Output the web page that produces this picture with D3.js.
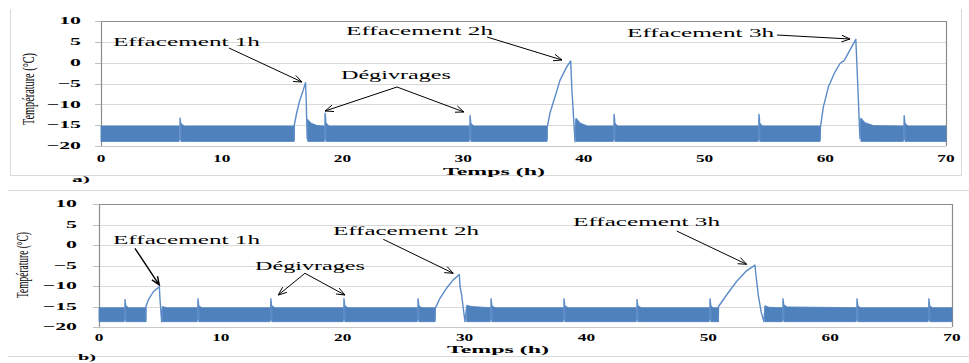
<!DOCTYPE html>
<html><head><meta charset="utf-8">
<script src="https://cdn.jsdelivr.net/npm/d3@7"></script>
<style>body{margin:0;background:#fff}svg{display:block}</style>
</head><body>
<svg id="c" width="969" height="363"></svg>
<script>
// ---------- DATA ----------
const yTicks = [10, 5, 0, -5, -10, -15, -20];
const xTicks = [0, 10, 20, 30, 40, 50, 60, 70];
const xTitle = "Temps (h)";
const yTitle = "Température (°C)";
const panelLabels = ["a)", "b)"];

// Chart a : noise band segments [time h, low °C, high °C]
const bandA = [
  [[0, -18.9, -15.2], [6.47, -18.9, -15.2]],
  [[6.62, -18.9, -14.6], [6.9, -18.9, -15.2], [16.0, -18.9, -15.2]],
  [[17.12, -18.9, -13.6], [17.4, -18.9, -14.5], [17.9, -18.9, -15.1], [18.5, -18.9, -15.2]],
  [[18.63, -18.9, -14.4], [18.9, -18.9, -15.2], [30.5, -18.9, -15.2]],
  [[30.64, -18.9, -14.6], [30.9, -18.9, -15.2], [36.95, -18.9, -15.2]],
  [[39.35, -18.9, -13.3], [39.7, -18.9, -14.5], [40.3, -18.9, -15.2], [42.44, -18.9, -15.2]],
  [[42.57, -18.9, -14.5], [42.8, -18.9, -15.2], [54.44, -18.9, -15.2]],
  [[54.57, -18.9, -14.5], [54.8, -18.9, -15.2], [59.57, -18.9, -15.2]],
  [[62.95, -18.9, -13.3], [63.3, -18.9, -14.4], [64.0, -18.9, -15.1], [66.47, -18.9, -15.2]],
  [[66.6, -18.9, -14.5], [66.85, -18.9, -15.2], [70, -18.9, -15.2]]
];
// Chart a : defrost spikes [time h, peak °C]
const defrostA = [[6.55, -13.2], [18.56, -12.0], [30.57, -12.6], [42.5, -12.3], [54.5, -12.3], [66.53, -12.6]];
// Chart a : load-shedding curves [time h, °C]
const eff1A = [[16.0, -18.6], [16.01, -15.0], [16.2, -12.2], [16.47, -9.0], [16.75, -6.6], [16.94, -4.8], [17.0, -9.0], [17.08, -18.2], [17.14, -14.0]];
const eff2A = [[36.95, -18.6], [36.97, -15.4], [37.2, -12.0], [37.61, -8.2], [38.03, -4.2], [38.58, -1.0], [38.91, 0.4], [39.0, -6.0], [39.27, -19.0], [39.35, -13.5]];
const eff3A = [[59.57, -18.6], [59.6, -15.4], [59.84, -10.6], [60.26, -5.8], [60.81, -2.2], [61.22, -0.2], [61.4, 0.2], [61.56, 0.5], [62.53, 5.6], [62.7, -6.0], [62.87, -18.2], [62.95, -13.4]];

// Chart b
const bandB = [
  [[0, -18.7, -15.3], [2.07, -18.7, -15.3]],
  [[2.2, -18.7, -14.8], [2.45, -18.7, -15.3], [3.86, -18.7, -15.3]],
  [[5.2, -18.7, -15.0], [5.6, -18.7, -15.3], [8.06, -18.7, -15.3]],
  [[8.19, -18.7, -14.8], [8.45, -18.7, -15.3], [14.04, -18.7, -15.3]],
  [[14.17, -18.7, -14.8], [14.45, -18.7, -15.3], [20.04, -18.7, -15.3]],
  [[20.17, -18.7, -14.8], [20.45, -18.7, -15.3], [26.12, -18.7, -15.3]],
  [[26.25, -18.7, -14.8], [26.5, -18.7, -15.3], [27.57, -18.7, -15.3]],
  [[30.17, -18.7, -14.7], [30.6, -18.7, -15.0], [32.11, -18.7, -15.3]],
  [[32.24, -18.7, -14.8], [32.5, -18.7, -15.3], [38.1, -18.7, -15.3]],
  [[38.23, -18.7, -14.8], [38.5, -18.7, -15.3], [44.09, -18.7, -15.3]],
  [[44.22, -18.7, -14.8], [44.5, -18.7, -15.3], [50.08, -18.7, -15.3]],
  [[50.21, -18.7, -14.8], [50.4, -18.7, -15.3], [50.84, -18.7, -15.3]],
  [[54.65, -18.7, -14.8], [55.0, -18.7, -15.2], [56.07, -18.7, -15.3]],
  [[56.2, -18.7, -14.6], [56.5, -18.7, -15.1], [62.14, -18.7, -15.3]],
  [[62.27, -18.7, -14.8], [62.5, -18.7, -15.3], [68.04, -18.7, -15.3]],
  [[68.17, -18.7, -14.8], [68.4, -18.7, -15.3], [70, -18.7, -15.3]]
];
const defrostB = [[2.13, -13.2], [8.12, -13.0], [14.1, -13.0], [20.1, -13.0], [26.18, -13.0], [32.17, -13.0], [38.16, -13.0], [44.15, -13.2], [50.14, -13.0], [56.13, -13.0], [62.2, -13.0], [68.1, -13.0]];
const eff1B = [[3.83, -18.6], [3.85, -15.0], [4.05, -13.4], [4.46, -11.4], [4.95, -10.2], [5.0, -13.0], [5.14, -18.7], [5.2, -15.5]];
const eff2B = [[27.57, -18.6], [27.6, -15.4], [27.98, -13.0], [28.53, -10.5], [29.07, -8.5], [29.57, -7.2], [29.62, -10.0], [29.76, -12.2], [30.03, -18.7], [30.17, -15.0]];
const eff3B = [[50.82, -18.7], [50.84, -15.0], [51.5, -12.2], [52.32, -8.9], [53.14, -6.3], [53.83, -4.9], [53.9, -7.0], [54.1, -12.2], [54.35, -16.5], [54.57, -18.7], [54.65, -15.0]];

const annotTexts = ["Effacement 1h", "Dégivrages", "Effacement 2h", "Effacement 3h"];

// ---------- LAYOUT ----------
const svg = d3.select("#c");
const FONT = '"Liberation Serif","Times New Roman",serif';
const BLUE = "#4F81BD";

// panel borders
const deco = svg.append("g").attr("stroke", "#d9d9d9").attr("fill", "none");
deco.append("path").attr("d", "M10.5,9 V175.5 H961.5 V9");
deco.append("path").attr("d", "M8,190.5 H969");
deco.append("path").attr("d", "M8,356.5 H969");

const charts = [
  { x: d3.scaleLinear([0, 70], [101, 946]), y: d3.scaleLinear([-20, 10], [146, 21]),
    band: bandA, defrost: defrostA, effs: [eff1A, eff2A, eff3A],
    yLabRight: 81, xLabBase: 162, xTitleX: 494, xTitleBase: 174.5, yTitleX: 34, yTitleStart: 125, yTitleLen: 72,
    panel: [72, 182],
    ann: [
      { i: 0, x: 0.99, y: 4.0, w: 147, arrows: [[[10.6, 3.52], [16.65, -4.64]]] },
      { i: 1, x: 19.88, y: -3.92, w: 110, arrows: [[[24.52, -5.84], [18.56, -11.6]], [[24.52, -5.84], [30.07, -11.84]]] },
      { i: 2, x: 20.3, y: 6.64, w: 147, arrows: [[[31.98, 6.16], [38.19, 0.64]]] },
      { i: 3, x: 43.58, y: 6.16, w: 147, arrows: [[[56.0, 6.64], [62.05, 5.68]]] }
    ] },
  { x: d3.scaleLinear([0, 70], [99, 952]), y: d3.scaleLinear([-20, 10], [327, 204]),
    band: bandB, defrost: defrostB, effs: [eff1B, eff2B, eff3B],
    yLabRight: 77, xLabBase: 341, xTitleX: 498, xTitleBase: 352.5, yTitleX: 28, yTitleStart: 298, yTitleLen: 66,
    panel: [78, 360],
    ann: [
      { i: 0, x: 1.15, y: 0.24, w: 147, arrows: [[[2.95, -0.8], [4.95, -9.76]]], sw: 1.4 },
      { i: 1, x: 12.8, y: -6.1, w: 110, arrows: [[[16.9, -6.9], [14.71, -12.2]], [[16.9, -6.9], [20.18, -12.2]]] },
      { i: 2, x: 19.2, y: 2.44, w: 146, arrows: [[[23.33, 1.39], [29.07, -6.9]]] },
      { i: 3, x: 38.9, y: 4.63, w: 147, arrows: [[[47.41, 3.41], [53.15, -4.71]]] }
    ] }
];

function sText(parent, x, y, str, size, sx, anchor, bold) {
  parent.append("g").attr("transform", `translate(${x},${y}) scale(${sx},1)`)
    .append("text").attr("text-anchor", anchor).attr("font-family", FONT)
    .attr("font-weight", bold ? "bold" : "normal").attr("font-size", size).attr("fill", "#000").text(str);
}

charts.forEach((c, ci) => {
  const g = svg.append("g");
  const [x0, x1] = c.x.range(), [yb, yt] = c.y.range();

  // gridlines
  g.selectAll(".grid").data(yTicks.filter(v => v > -20)).join("line")
    .attr("x1", x0).attr("x2", x1).attr("y1", d => Math.round(c.y(d)) + 0.5).attr("y2", d => Math.round(c.y(d)) + 0.5)
    .attr("stroke", "#d9d9d9");
  // y tick marks
  g.selectAll(".tk").data(yTicks).join("line")
    .attr("x1", x0 - 6).attr("x2", x0).attr("y1", d => Math.round(c.y(d)) + 0.5).attr("y2", d => Math.round(c.y(d)) + 0.5)
    .attr("stroke", "#bfbfbf");
  // frame
  g.append("line").attr("x1", x0).attr("x2", x1).attr("y1", Math.round(yb) + 0.5).attr("y2", Math.round(yb) + 0.5).attr("stroke", "#c8c8c8");
  g.append("path").attr("d", `M${x0 + 0.5},${yb} V${Math.round(yt) + 0.5} H${x1 + 0.5} V${yb}`).attr("fill", "none").attr("stroke", "#8c8c8c").attr("stroke-width", 1.2);

  // noise band
  const area = d3.area().x(d => c.x(d[0])).y0(d => c.y(d[1])).y1(d => c.y(d[2]));
  g.selectAll(".band").data(c.band).join("path").attr("d", area)
    .attr("fill", BLUE).attr("stroke", BLUE).attr("stroke-width", 0.8);

  // defrost spikes
  const lo = c.band[0][0][1];
  const line = d3.line().x(d => c.x(d[0])).y(d => c.y(d[1]));
  g.selectAll(".sp").data(c.defrost).join("path")
    .attr("d", d => line([[d[0] - 0.02, lo + 0.3], [d[0], d[1]], [d[0] + 0.05, d[1] - 1.3], [d[0] + 0.1, lo + 0.3]]))
    .attr("fill", "none").attr("stroke", "#5b8bc7").attr("stroke-width", 1.3);

  // load-shedding curves
  g.selectAll(".ef").data(c.effs).join("path").attr("d", line)
    .attr("fill", "none").attr("stroke", "#5b8bc7").attr("stroke-width", 1.4).attr("stroke-linejoin", "round");

  // y tick labels
  yTicks.forEach(v => sText(g, c.yLabRight, c.y(v) + 3.2, d3.format("")(v), 9.5, 2.3, "end", true));
  // x tick labels
  xTicks.forEach(v => sText(g, c.x(v), c.xLabBase, String(v), 10.5, 1.65, "middle", true));
  // axis titles
  g.append("text").attr("x", c.xTitleX).attr("y", c.xTitleBase).attr("text-anchor", "middle")
    .attr("font-family", FONT).attr("font-weight", "bold").attr("font-size", 11)
    .attr("textLength", 102).attr("lengthAdjust", "spacingAndGlyphs").text(xTitle);
  g.append("text").attr("transform", `translate(${c.yTitleX},${c.yTitleStart}) rotate(-90)`)
    .attr("font-family", FONT).attr("font-size", 16)
    .attr("textLength", c.yTitleLen).attr("lengthAdjust", "spacingAndGlyphs").text(yTitle);
  // panel label
  g.append("text").attr("x", c.panel[0]).attr("y", c.panel[1]).attr("font-family", FONT).attr("font-weight", "bold")
    .attr("font-size", 9).attr("textLength", 18).attr("lengthAdjust", "spacingAndGlyphs").text(panelLabels[ci]);

  // annotations
  c.ann.forEach(a => {
    g.append("text").attr("x", c.x(a.x)).attr("y", c.y(a.y)).attr("font-family", FONT).attr("font-size", 12.5)
      .attr("textLength", a.w).attr("lengthAdjust", "spacingAndGlyphs").text(annotTexts[a.i]);
    a.arrows.forEach(ar => {
      const [px, py] = [c.x(ar[0][0]), c.y(ar[0][1])], [qx, qy] = [c.x(ar[1][0]), c.y(ar[1][1])];
      const ang = Math.atan2(qy - py, qx - px), L = 9, h = 0.38;
      const p1 = [qx - L * Math.cos(ang - h), qy - L * Math.sin(ang - h)];
      const p2 = [qx - L * Math.cos(ang + h), qy - L * Math.sin(ang + h)];
      g.append("path").attr("d", `M${px},${py} L${qx},${qy} M${p1} L${qx},${qy} L${p2}`)
        .attr("fill", "none").attr("stroke", "#000").attr("stroke-width", a.sw || 1);
    });
  });
});
</script>
</body></html>
